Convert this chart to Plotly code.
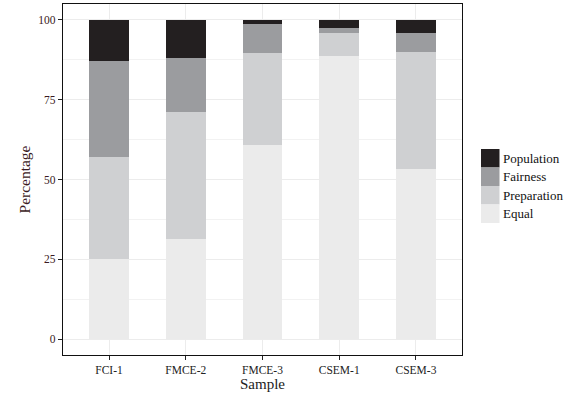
import plotly.graph_objects as go

samples = ["FCI-1", "FMCE-2", "FMCE-3", "CSEM-1", "CSEM-3"]
equal = [25.2, 31.5, 60.9, 88.7, 53.4]
preparation = [31.9, 39.7, 28.6, 7.2, 36.6]
fairness = [30.1, 16.9, 9.2, 1.6, 5.9]
population = [12.8, 11.9, 1.3, 2.5, 4.1]

series = [
    ("Equal", equal, "#ebebeb"),
    ("Preparation", preparation, "#cfd0d2"),
    ("Fairness", fairness, "#9b9c9f"),
    ("Population", population, "#231f20"),
]

FONT = "Liberation Serif"

fig = go.Figure()
for name, vals, col in series:
    fig.add_trace(go.Bar(x=samples, y=vals, name=name, marker_color=col,
                         marker_line_width=0, width=0.52, showlegend=False))

# manual legend (ggplot-like keys)
legend_items = [("Population", "#231f20"), ("Fairness", "#9b9c9f"),
                ("Preparation", "#cfd0d2"), ("Equal", "#ebebeb")]
W, H = 566, 399
x0, y_top, key = 481, 149, 18.5
for i, (name, col) in enumerate(legend_items):
    yt = y_top + i * key
    fig.add_shape(type="rect", xref="paper", yref="paper",
                  x0=(x0 - 63) / 399, x1=(x0 + key - 63) / 399,
                  y0=(355 - yt) / 351, y1=(355 - yt - key) / 351,
                  fillcolor=col, line_width=0, layer="above")
    fig.add_annotation(xref="paper", yref="paper", x=(x0 + key + 1 - 63) / 399,
                       y=(355 - yt - key / 2) / 351, text=name, showarrow=False,
                       xanchor="left", yanchor="middle",
                       font=dict(family=FONT, size=13, color="#111"))

fig.update_layout(
    barmode="stack",
    width=W, height=H,
    margin=dict(l=63, r=104, t=4, b=44),
    paper_bgcolor="white", plot_bgcolor="white",
    font=dict(family=FONT, color="#222"),
    showlegend=False,
)
fig.update_xaxes(
    range=[-0.6, 4.6], showline=True, mirror=True, linecolor="#111", linewidth=1.2,
    ticks="outside", ticklen=4, tickcolor="#222", showgrid=True, gridcolor="#ececec",
    gridwidth=1, tickfont=dict(size=11.5, family=FONT, color="#222"),
    title=dict(text="Sample", font=dict(size=15, family=FONT, color="#222"), standoff=0),
)
fig.update_yaxes(
    range=[-5, 105], tickvals=[0, 25, 50, 75, 100], showline=True, mirror=True,
    linecolor="#111", linewidth=1.2, ticks="outside", ticklen=4, tickcolor="#222",
    showgrid=True, gridcolor="#ececec", gridwidth=1, zeroline=False,
    minor=dict(tickvals=[12.5, 37.5, 62.5, 87.5], showgrid=True, gridcolor="#f2f2f2", gridwidth=0.6, ticks=""),
    tickfont=dict(size=11.5, family=FONT, color="#3a1a22"),
    title=dict(text="Percentage", font=dict(size=15.5, family=FONT, color="#3a1a22"), standoff=3),
)
fig.write_html("out.html", config={"displayModeBar": False},
               post_script="document.body.style.margin='0';document.body.style.overflow='hidden';")
